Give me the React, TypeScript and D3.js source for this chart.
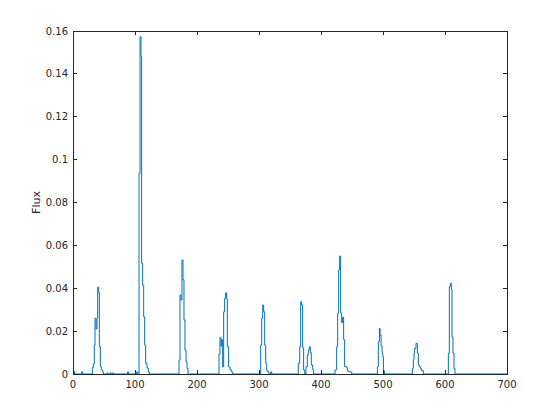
import React from "react";
import * as d3 from "d3";

const sampleX = [
  0, 1, 2.5, 14, 15.5,
  31.2, 32.8, 34.4, 35.5, 37.1, 38.7, 39.8, 41.4, 42.5, 44.1, 45.7, 47.3, 49,
  55, 56.5, 60, 61.5, 64, 65.5, 88, 89.5, 102.7, 104.3,
  106.5, 108.1, 109.7, 110.7, 112.3, 114, 115.6, 117.2, 119.4, 121.5, 123.1,
  171, 172.6, 174.2, 175.8, 177.4, 179, 180.6, 182.3, 183.9, 185.5,
  235.5, 237.1, 238.7, 239.8, 241.4, 243, 244.6, 246.2, 247.8, 248.9, 251, 253.2, 255.4, 257.5,
  302.7, 304.3, 306, 307.5, 309.2, 310.8, 312.4, 314, 316, 319, 320.5,
  363.4, 365.6, 367.2, 368.8, 370.4, 372, 373.7,
  375.8, 378, 379.6, 381.2, 382.8, 384.4, 386.6, 388.2,
  422.6, 425.3, 426.9, 428.5, 430.1, 431.7, 433.3, 434.9, 436.5, 438.1, 440.9, 442.5, 444.1, 449.5,
  490.9, 492.5, 494.2, 495.3, 496.9, 498.5, 499.6, 500.7, 502.3,
  547.3, 548.9, 550, 551, 553.2, 555.4, 557, 558.6, 560.2, 561.8, 565,
  605.4, 607, 608.6, 610.2, 611.3, 612.9, 614.5, 616.1,
  700,
];

const fluxValues = [
  0, 0.0012, 0, 0.001, 0,
  0.003, 0.0047, 0.0135, 0.026, 0.021, 0.026, 0.0405, 0.038, 0.0127, 0.0034, 0.002, 0.001, 0,
  0.0005, 0, 0.0005, 0, 0.0005, 0, 0.001, 0, 0.001, 0,
  0.0936, 0.1573, 0.148, 0.0516, 0.0415, 0.0267, 0.0135, 0.005, 0.0028, 0.001, 0,
  0.0065, 0.0369, 0.0345, 0.0532, 0.0439, 0.0252, 0.0112, 0.0057, 0.0026, 0,
  0.0093, 0.0171, 0.013, 0.016, 0.0033, 0.029, 0.0353, 0.0379, 0.035, 0.0127, 0.0033, 0.002, 0.001, 0,
  0.0135, 0.026, 0.0322, 0.029, 0.0135, 0.005, 0.0017, 0.001, 0, 0.001, 0,
  0.005, 0.0127, 0.0337, 0.0322, 0.0122, 0.0019, 0,
  0.0034, 0.0089, 0.0112, 0.0127, 0.01, 0.0042, 0.002, 0,
  0.0019, 0.0127, 0.0283, 0.0485, 0.055, 0.0285, 0.024, 0.0265, 0.016, 0.0035, 0.003, 0.0015, 0.001, 0,
  0.0034, 0.0151, 0.0213, 0.0182, 0.0131, 0.0099, 0.0081, 0.0016, 0,
  0.0026, 0.0065, 0.0097, 0.012, 0.0143, 0.0097, 0.0042, 0.0034, 0.0026, 0.0016, 0,
  0.0097, 0.0407, 0.0423, 0.0395, 0.0171, 0.0097, 0.0026, 0,
  0,
];

const xTicks = [0, 100, 200, 300, 400, 500, 600, 700];
const yTicks = [0, 0.02, 0.04, 0.06, 0.08, 0.1, 0.12, 0.14, 0.16];
const yLabel = "Flux";

const W = 560;
const H = 420;
const L = 73;
const R = 507;
const T = 31;
const B = 374;
const axisColor = "#262626";
const lineColor = "#0072BD";
const font = "'DejaVu Sans', 'Liberation Sans', sans-serif";

export default function App() {
  const x = d3.scaleLinear().domain([0, 700]).range([L, R]);
  const y = d3.scaleLinear().domain([0, 0.16]).range([B, T]);
  const pts: [number, number][] = sampleX.map((v, i) => [v, fluxValues[i]]);
  const line = d3
    .line<[number, number]>()
    .x((d) => x(d[0]))
    .y((d) => y(d[1]))
    .curve(d3.curveStepAfter);
  const tl = 4;
  const fmt = (v: number) => (v === 0 ? "0" : String(+v.toFixed(2)));
  return (
    <svg
      width={W}
      height={H}
      style={{ position: "absolute", left: 0, top: 0, background: "#fff" }}
    >
      <rect x={0} y={0} width={W} height={H} fill="#fff" />
      <path d={line(pts) || ""} fill="none" stroke={lineColor} strokeWidth={1} />
      <g stroke={axisColor} strokeWidth={1} shapeRendering="crispEdges" fill="none">
        <rect x={L} y={T} width={R - L} height={B - T} />
        {xTicks.map((t) => (
          <g key={"xt" + t}>
            <line x1={x(t)} x2={x(t)} y1={B} y2={B - tl} />
            <line x1={x(t)} x2={x(t)} y1={T} y2={T + tl} />
          </g>
        ))}
        {yTicks.map((t) => (
          <g key={"yt" + t}>
            <line x1={L} x2={L + tl} y1={y(t)} y2={y(t)} />
            <line x1={R} x2={R - tl} y1={y(t)} y2={y(t)} />
          </g>
        ))}
      </g>
      <g fill={axisColor} fontFamily={font} fontSize={10}>
        {xTicks.map((t) => (
          <text key={"xl" + t} x={x(t)} y={B + 14} textAnchor="middle">
            {t}
          </text>
        ))}
        {yTicks.map((t) => (
          <text key={"yl" + t} x={L - 5} y={y(t) + 3.5} textAnchor="end">
            {fmt(t)}
          </text>
        ))}
        <text
          transform={`translate(40, ${(T + B) / 2}) rotate(-90)`}
          textAnchor="middle"
          fontSize={11}
        >
          {yLabel}
        </text>
      </g>
    </svg>
  );
}
